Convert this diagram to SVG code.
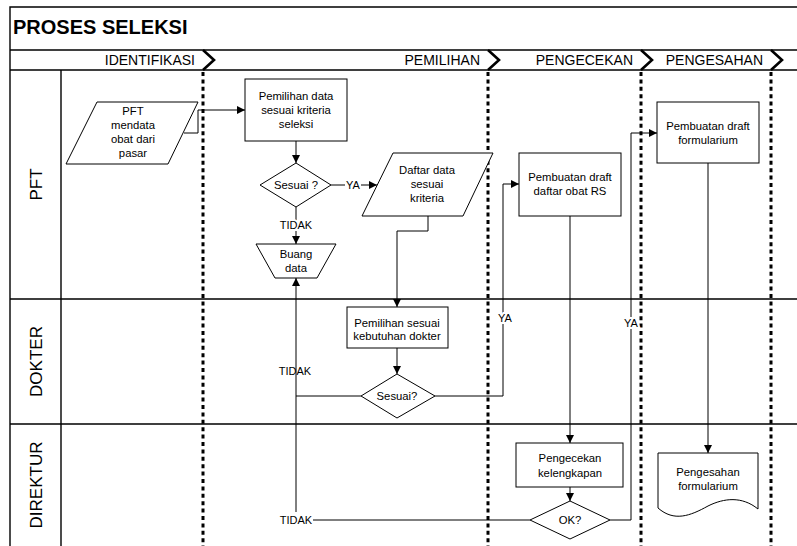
<svg xmlns="http://www.w3.org/2000/svg" width="797" height="546" viewBox="0 0 797 546">
  <style>
    text { font-family: "Liberation Sans", Arial, sans-serif; fill: #000; }
    .title { font-size: 20px; font-weight: bold; }
    .phase { font-size: 14px; text-anchor: end; }
    .lane { font-size: 17px; text-anchor: middle; }
    .t { font-size: 11.3px; text-anchor: middle; }
    .lbl { font-size: 11px; text-anchor: middle; }
    .halo { stroke: #fff; stroke-width: 4px; paint-order: stroke; }
    .frame { fill: none; stroke: #000; stroke-width: 1.4; }
    .sep { fill: none; stroke: #000; stroke-width: 3; stroke-dasharray: 4 3.4; }
    .chev { fill: none; stroke: #000; stroke-width: 2.6; }
    .shape { fill: #fff; stroke: #000; stroke-width: 1; }
    .conn { fill: none; stroke: #000; stroke-width: 1; }
    .arr { marker-end: url(#ah); }
  </style>
  <defs>
    <marker id="ah" viewBox="0 0 10 10" refX="10" refY="5" markerWidth="9" markerHeight="8" markerUnits="userSpaceOnUse" orient="auto">
      <path d="M0,0 L10,5 L0,10 Z" fill="#000"/>
    </marker>
  </defs>

  <rect width="797" height="546" fill="#fff"/>

  <!-- pool frame, phase band and swimlanes -->
  <g id="pool">
    <path class="frame" d="M10,546 V7 H797 M10,50 H797 M10,70 H797 M61,70 V546 M10,299 H797 M10,424 H797"/>
    <text class="title" x="13" y="34">PROSES SELEKSI</text>
    <text class="lane" transform="translate(42,184.5) rotate(-90)">PFT</text>
    <text class="lane" transform="translate(42,361.5) rotate(-90)">DOKTER</text>
    <text class="lane" transform="translate(42,485) rotate(-90)">DIREKTUR</text>
  </g>

  <!-- phases -->
  <g id="phases">
    <text class="phase" x="195" y="65">IDENTIFIKASI</text>
    <text class="phase" x="480" y="65">PEMILIHAN</text>
    <text class="phase" x="633" y="65">PENGECEKAN</text>
    <text class="phase" x="763" y="65">PENGESAHAN</text>
    <polyline class="chev" points="203,50 214,60 203,70"/>
    <polyline class="chev" points="488,50 499,60 488,70"/>
    <polyline class="chev" points="641,50 652,60 641,70"/>
    <polyline class="chev" points="771,50 782,60 771,70"/>
    <line class="sep" x1="203" y1="72" x2="203" y2="546"/>
    <line class="sep" x1="488" y1="72" x2="488" y2="546"/>
    <line class="sep" x1="641" y1="72" x2="641" y2="546"/>
    <line class="sep" x1="771" y1="72" x2="771" y2="546"/>
  </g>

  <!-- connectors -->
  <g id="connectors">
    <path class="conn arr" d="M184,133 H198 V110 H245"/>
    <path class="conn arr" d="M296,141 V163"/>
    <path class="conn" d="M331,185 H345"/>
    <path class="conn arr" d="M361,185 H377"/>
    <text class="lbl" x="353" y="189">YA</text>
    <path class="conn arr" d="M296,207 V244"/>
    <text class="lbl halo" x="296" y="229">TIDAK</text>
    <path class="conn arr" d="M428,216 V231 H397 V307"/>
    <path class="conn arr" d="M397,348 V374"/>
    <path class="conn arr" d="M435,396 H503 V184 H519"/>
    <text class="lbl halo" x="505" y="322">YA</text>
    <path class="conn" d="M361,396 H296"/>
    <path class="conn arr" d="M296,512 V278"/>
    <text class="lbl" x="295" y="375">TIDAK</text>
    <path class="conn arr" d="M570,216 V443"/>
    <path class="conn arr" d="M570,487 V501"/>
    <path class="conn" d="M530,520 H313"/>
    <text class="lbl" x="296" y="524">TIDAK</text>
    <path class="conn arr" d="M610,520 H631 V133 H657"/>
    <text class="lbl halo" x="631" y="327">YA</text>
    <path class="conn arr" d="M708,163 V453"/>
  </g>

  <!-- PFT lane -->
  <g id="pft-mendata">
    <polygon class="shape" points="97,102 198,102 168,164 66,164"/>
    <text class="t" x="133" y="115">PFT</text>
    <text class="t" x="133" y="129">mendata</text>
    <text class="t" x="133" y="143">obat dari</text>
    <text class="t" x="133" y="157">pasar</text>
  </g>
  <g id="pemilihan-data">
    <rect class="shape" x="245" y="79" width="102" height="62"/>
    <text class="t" x="296" y="100">Pemilihan data</text>
    <text class="t" x="296" y="114">sesuai kriteria</text>
    <text class="t" x="296" y="128">seleksi</text>
  </g>
  <g id="sesuai-1">
    <polygon class="shape" points="296,163 331,185 296,207 260,185"/>
    <text class="t" x="296" y="189">Sesuai ?</text>
  </g>
  <g id="buang-data">
    <polygon class="shape" points="256,244 336,244 317,278 275,278"/>
    <text class="t" x="296" y="258">Buang</text>
    <text class="t" x="296" y="272">data</text>
  </g>
  <g id="daftar-data">
    <polygon class="shape" points="393,153 493,153 463,216 362,216"/>
    <text class="t" x="427" y="174">Daftar data</text>
    <text class="t" x="427" y="188">sesuai</text>
    <text class="t" x="427" y="202">kriteria</text>
  </g>
  <g id="draft-daftar-obat">
    <rect class="shape" x="519" y="153" width="102" height="63"/>
    <text class="t" x="570" y="181">Pembuatan draft</text>
    <text class="t" x="570" y="195">daftar obat RS</text>
  </g>
  <g id="draft-formularium">
    <rect class="shape" x="657" y="102" width="102" height="61"/>
    <text class="t" x="708" y="130">Pembuatan draft</text>
    <text class="t" x="708" y="144">formularium</text>
  </g>

  <!-- DOKTER lane -->
  <g id="pemilihan-dokter">
    <rect class="shape" x="347" y="307" width="101" height="41"/>
    <text class="t" x="397" y="327">Pemilihan sesuai</text>
    <text class="t" x="397" y="340">kebutuhan dokter</text>
  </g>
  <g id="sesuai-2">
    <polygon class="shape" points="397,374 435,396 397,418 361,396"/>
    <text class="t" x="397" y="400">Sesuai?</text>
  </g>

  <!-- DIREKTUR lane -->
  <g id="pengecekan">
    <rect class="shape" x="516" y="443" width="107" height="44"/>
    <text class="t" x="570" y="462">Pengecekan</text>
    <text class="t" x="570" y="477">kelengkapan</text>
  </g>
  <g id="ok">
    <polygon class="shape" points="570,501 610,520 570,539 530,520"/>
    <text class="t" x="570" y="524">OK?</text>
  </g>
  <g id="pengesahan">
    <path class="shape" d="M658,453 H758 V509 C742,496 724,498 708,506 C690,516 674,522 658,508 Z"/>
    <text class="t" x="708" y="476">Pengesahan</text>
    <text class="t" x="708" y="490">formularium</text>
  </g>
</svg>
